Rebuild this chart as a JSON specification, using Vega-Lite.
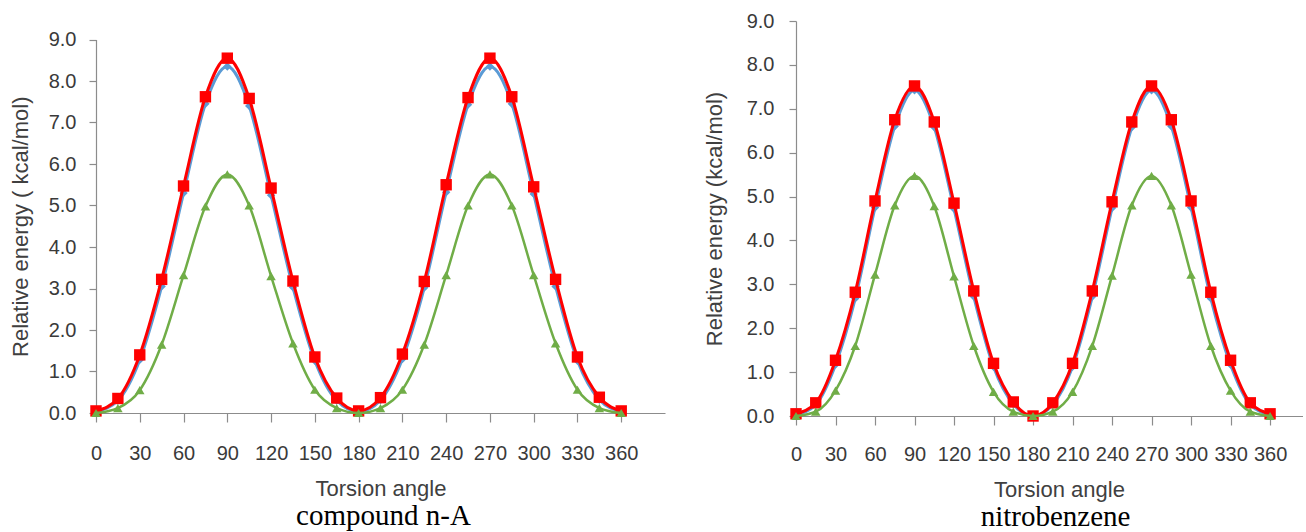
{
  "$schema": "https://vega.github.io/schema/vega-lite/v6.json",
  "padding": {"left": 9, "top": 11, "right": 0, "bottom": 0},
  "bounds": "flush",
  "spacing": 131,
  "config": {
    "view": {"stroke": null},
    "font": "Liberation Sans",
    "axis": {
      "grid": false,
      "domainColor": "#8c8c8c",
      "tickColor": "#8c8c8c",
      "domainWidth": 1.2,
      "tickWidth": 1.2,
      "labelFont": "Liberation Sans",
      "labelFontSize": 20,
      "labelColor": "#3a3a3a",
      "titleFont": "Liberation Sans",
      "titleFontSize": 22,
      "titleFontWeight": "normal",
      "titleColor": "#404040",
      "labelOverlap": false,
      "labelFlush": false
    }
  },
  "datasets": {
    "left": [
      {"angle": 0, "series": "S1", "energy": 0.03}, {"angle": 15, "series": "S1", "energy": 0.30}, {"angle": 30, "series": "S1", "energy": 1.28}, {"angle": 45, "series": "S1", "energy": 3.05}, {"angle": 60, "series": "S1", "energy": 5.30}, {"angle": 75, "series": "S1", "energy": 7.45}, {"angle": 90, "series": "S1", "energy": 8.35}, {"angle": 105, "series": "S1", "energy": 7.40}, {"angle": 120, "series": "S1", "energy": 5.25}, {"angle": 135, "series": "S1", "energy": 3.03}, {"angle": 150, "series": "S1", "energy": 1.26}, {"angle": 165, "series": "S1", "energy": 0.30}, {"angle": 180, "series": "S1", "energy": 0.03}, {"angle": 195, "series": "S1", "energy": 0.31}, {"angle": 210, "series": "S1", "energy": 1.30}, {"angle": 225, "series": "S1", "energy": 3.02}, {"angle": 240, "series": "S1", "energy": 5.32}, {"angle": 255, "series": "S1", "energy": 7.43}, {"angle": 270, "series": "S1", "energy": 8.35}, {"angle": 285, "series": "S1", "energy": 7.45}, {"angle": 300, "series": "S1", "energy": 5.28}, {"angle": 315, "series": "S1", "energy": 3.05}, {"angle": 330, "series": "S1", "energy": 1.26}, {"angle": 345, "series": "S1", "energy": 0.32}, {"angle": 360, "series": "S1", "energy": 0.03},
      {"angle": 0, "series": "S2", "energy": 0.05}, {"angle": 15, "series": "S2", "energy": 0.35}, {"angle": 30, "series": "S2", "energy": 1.40}, {"angle": 45, "series": "S2", "energy": 3.22}, {"angle": 60, "series": "S2", "energy": 5.47}, {"angle": 75, "series": "S2", "energy": 7.62}, {"angle": 90, "series": "S2", "energy": 8.55}, {"angle": 105, "series": "S2", "energy": 7.58}, {"angle": 120, "series": "S2", "energy": 5.42}, {"angle": 135, "series": "S2", "energy": 3.18}, {"angle": 150, "series": "S2", "energy": 1.35}, {"angle": 165, "series": "S2", "energy": 0.36}, {"angle": 180, "series": "S2", "energy": 0.05}, {"angle": 195, "series": "S2", "energy": 0.37}, {"angle": 210, "series": "S2", "energy": 1.42}, {"angle": 225, "series": "S2", "energy": 3.17}, {"angle": 240, "series": "S2", "energy": 5.50}, {"angle": 255, "series": "S2", "energy": 7.60}, {"angle": 270, "series": "S2", "energy": 8.55}, {"angle": 285, "series": "S2", "energy": 7.62}, {"angle": 300, "series": "S2", "energy": 5.45}, {"angle": 315, "series": "S2", "energy": 3.22}, {"angle": 330, "series": "S2", "energy": 1.35}, {"angle": 345, "series": "S2", "energy": 0.38}, {"angle": 360, "series": "S2", "energy": 0.05},
      {"angle": 0, "series": "S3", "energy": 0.00}, {"angle": 15, "series": "S3", "energy": 0.12}, {"angle": 30, "series": "S3", "energy": 0.55}, {"angle": 45, "series": "S3", "energy": 1.65}, {"angle": 60, "series": "S3", "energy": 3.32}, {"angle": 75, "series": "S3", "energy": 4.98}, {"angle": 90, "series": "S3", "energy": 5.75}, {"angle": 105, "series": "S3", "energy": 5.00}, {"angle": 120, "series": "S3", "energy": 3.30}, {"angle": 135, "series": "S3", "energy": 1.68}, {"angle": 150, "series": "S3", "energy": 0.56}, {"angle": 165, "series": "S3", "energy": 0.12}, {"angle": 180, "series": "S3", "energy": 0.00}, {"angle": 195, "series": "S3", "energy": 0.12}, {"angle": 210, "series": "S3", "energy": 0.56}, {"angle": 225, "series": "S3", "energy": 1.65}, {"angle": 240, "series": "S3", "energy": 3.32}, {"angle": 255, "series": "S3", "energy": 5.00}, {"angle": 270, "series": "S3", "energy": 5.75}, {"angle": 285, "series": "S3", "energy": 5.00}, {"angle": 300, "series": "S3", "energy": 3.32}, {"angle": 315, "series": "S3", "energy": 1.68}, {"angle": 330, "series": "S3", "energy": 0.56}, {"angle": 345, "series": "S3", "energy": 0.12}, {"angle": 360, "series": "S3", "energy": 0.00}
    ],
    "right": [
      {"angle": 0, "series": "S1", "energy": 0.03}, {"angle": 15, "series": "S1", "energy": 0.26}, {"angle": 30, "series": "S1", "energy": 1.17}, {"angle": 45, "series": "S1", "energy": 2.68}, {"angle": 60, "series": "S1", "energy": 4.75}, {"angle": 75, "series": "S1", "energy": 6.60}, {"angle": 90, "series": "S1", "energy": 7.42}, {"angle": 105, "series": "S1", "energy": 6.58}, {"angle": 120, "series": "S1", "energy": 4.72}, {"angle": 135, "series": "S1", "energy": 2.72}, {"angle": 150, "series": "S1", "energy": 1.12}, {"angle": 165, "series": "S1", "energy": 0.27}, {"angle": 180, "series": "S1", "energy": 0.00}, {"angle": 195, "series": "S1", "energy": 0.26}, {"angle": 210, "series": "S1", "energy": 1.12}, {"angle": 225, "series": "S1", "energy": 2.72}, {"angle": 240, "series": "S1", "energy": 4.74}, {"angle": 255, "series": "S1", "energy": 6.58}, {"angle": 270, "series": "S1", "energy": 7.42}, {"angle": 285, "series": "S1", "energy": 6.60}, {"angle": 300, "series": "S1", "energy": 4.75}, {"angle": 315, "series": "S1", "energy": 2.68}, {"angle": 330, "series": "S1", "energy": 1.17}, {"angle": 345, "series": "S1", "energy": 0.26}, {"angle": 360, "series": "S1", "energy": 0.03},
      {"angle": 0, "series": "S2", "energy": 0.05}, {"angle": 15, "series": "S2", "energy": 0.30}, {"angle": 30, "series": "S2", "energy": 1.27}, {"angle": 45, "series": "S2", "energy": 2.82}, {"angle": 60, "series": "S2", "energy": 4.90}, {"angle": 75, "series": "S2", "energy": 6.75}, {"angle": 90, "series": "S2", "energy": 7.52}, {"angle": 105, "series": "S2", "energy": 6.70}, {"angle": 120, "series": "S2", "energy": 4.85}, {"angle": 135, "series": "S2", "energy": 2.85}, {"angle": 150, "series": "S2", "energy": 1.20}, {"angle": 165, "series": "S2", "energy": 0.32}, {"angle": 180, "series": "S2", "energy": 0.00}, {"angle": 195, "series": "S2", "energy": 0.30}, {"angle": 210, "series": "S2", "energy": 1.20}, {"angle": 225, "series": "S2", "energy": 2.85}, {"angle": 240, "series": "S2", "energy": 4.88}, {"angle": 255, "series": "S2", "energy": 6.70}, {"angle": 270, "series": "S2", "energy": 7.52}, {"angle": 285, "series": "S2", "energy": 6.75}, {"angle": 300, "series": "S2", "energy": 4.90}, {"angle": 315, "series": "S2", "energy": 2.82}, {"angle": 330, "series": "S2", "energy": 1.27}, {"angle": 345, "series": "S2", "energy": 0.30}, {"angle": 360, "series": "S2", "energy": 0.05},
      {"angle": 0, "series": "S3", "energy": 0.00}, {"angle": 15, "series": "S3", "energy": 0.10}, {"angle": 30, "series": "S3", "energy": 0.58}, {"angle": 45, "series": "S3", "energy": 1.60}, {"angle": 60, "series": "S3", "energy": 3.22}, {"angle": 75, "series": "S3", "energy": 4.80}, {"angle": 90, "series": "S3", "energy": 5.47}, {"angle": 105, "series": "S3", "energy": 4.78}, {"angle": 120, "series": "S3", "energy": 3.18}, {"angle": 135, "series": "S3", "energy": 1.60}, {"angle": 150, "series": "S3", "energy": 0.55}, {"angle": 165, "series": "S3", "energy": 0.10}, {"angle": 180, "series": "S3", "energy": 0.00}, {"angle": 195, "series": "S3", "energy": 0.10}, {"angle": 210, "series": "S3", "energy": 0.55}, {"angle": 225, "series": "S3", "energy": 1.60}, {"angle": 240, "series": "S3", "energy": 3.20}, {"angle": 255, "series": "S3", "energy": 4.80}, {"angle": 270, "series": "S3", "energy": 5.47}, {"angle": 285, "series": "S3", "energy": 4.80}, {"angle": 300, "series": "S3", "energy": 3.22}, {"angle": 315, "series": "S3", "energy": 1.60}, {"angle": 330, "series": "S3", "energy": 0.58}, {"angle": 345, "series": "S3", "energy": 0.10}, {"angle": 360, "series": "S3", "energy": 0.00}
    ]
  },
  "hconcat": [
    {
      "width": 569,
      "height": 392,
      "data": {"name": "left"},
      "title": {"text": "compound n-A", "orient": "bottom", "font": "Liberation Serif", "fontSize": 29, "fontWeight": "normal", "color": "#000000", "offset": 3, "dx": 3},
      "encoding": {
        "x": {"field": "angle", "type": "quantitative", "scale": {"domain": [0, 390], "nice": false, "zero": false},
              "axis": {"title": "Torsion angle", "values": [0, 30, 60, 90, 120, 150, 180, 210, 240, 270, 300, 330, 360], "tickSize": 9, "labelPadding": 21, "titlePadding": 15}},
        "y": {"field": "energy", "type": "quantitative", "scale": {"domain": [0, 9], "range": [392, 18.5], "nice": false},
              "axis": {"title": "Relative energy ( kcal/mol)", "values": [0, 1, 2, 3, 4, 5, 6, 7, 8, 9], "format": ".1f", "tickSize": 7, "labelPadding": 13, "titlePadding": 16}}
      },
      "layer": [
        {"transform": [{"filter": "datum.series === 'S1'"}], "mark": {"type": "line", "interpolate": "monotone", "strokeWidth": 3, "color": "#5b9bd5", "point": {"filled": true, "shape": "diamond", "size": 70, "color": "#5b9bd5", "opacity": 1}}},
        {"transform": [{"filter": "datum.series === 'S2'"}], "mark": {"type": "line", "interpolate": "monotone", "strokeWidth": 3, "color": "#ff0000", "point": {"filled": true, "shape": "square", "size": 130, "color": "#ff0000", "opacity": 1}}},
        {"transform": [{"filter": "datum.series === 'S3'"}], "mark": {"type": "line", "interpolate": "monotone", "strokeWidth": 2.5, "color": "#70ad47", "point": {"filled": true, "shape": "triangle-up", "size": 90, "color": "#70ad47", "opacity": 1}}}
      ]
    },
    {
      "width": 507,
      "height": 395,
      "data": {"name": "right"},
      "title": {"text": "nitrobenzene", "orient": "bottom", "font": "Liberation Serif", "fontSize": 29, "fontWeight": "normal", "color": "#000000", "offset": 3, "dx": 6},
      "encoding": {
        "x": {"field": "angle", "type": "quantitative", "scale": {"domain": [0, 385], "nice": false, "zero": false},
              "axis": {"title": "Torsion angle", "titleX": 263, "values": [0, 30, 60, 90, 120, 150, 180, 210, 240, 270, 300, 330, 360], "tickSize": 9, "labelPadding": 19, "titlePadding": 15}},
        "y": {"field": "energy", "type": "quantitative", "scale": {"domain": [0, 9], "nice": false},
              "axis": {"title": "Relative energy (kcal/mol)", "values": [0, 1, 2, 3, 4, 5, 6, 7, 8, 9], "format": ".1f", "tickSize": 7, "labelPadding": 15, "titlePadding": 20}}
      },
      "layer": [
        {"transform": [{"filter": "datum.series === 'S1'"}], "mark": {"type": "line", "interpolate": "monotone", "strokeWidth": 3, "color": "#5b9bd5", "point": {"filled": true, "shape": "diamond", "size": 70, "color": "#5b9bd5", "opacity": 1}}},
        {"transform": [{"filter": "datum.series === 'S2'"}], "mark": {"type": "line", "interpolate": "monotone", "strokeWidth": 3, "color": "#ff0000", "point": {"filled": true, "shape": "square", "size": 130, "color": "#ff0000", "opacity": 1}}},
        {"transform": [{"filter": "datum.series === 'S3'"}], "mark": {"type": "line", "interpolate": "monotone", "strokeWidth": 2.5, "color": "#70ad47", "point": {"filled": true, "shape": "triangle-up", "size": 90, "color": "#70ad47", "opacity": 1}}}
      ]
    }
  ]
}
